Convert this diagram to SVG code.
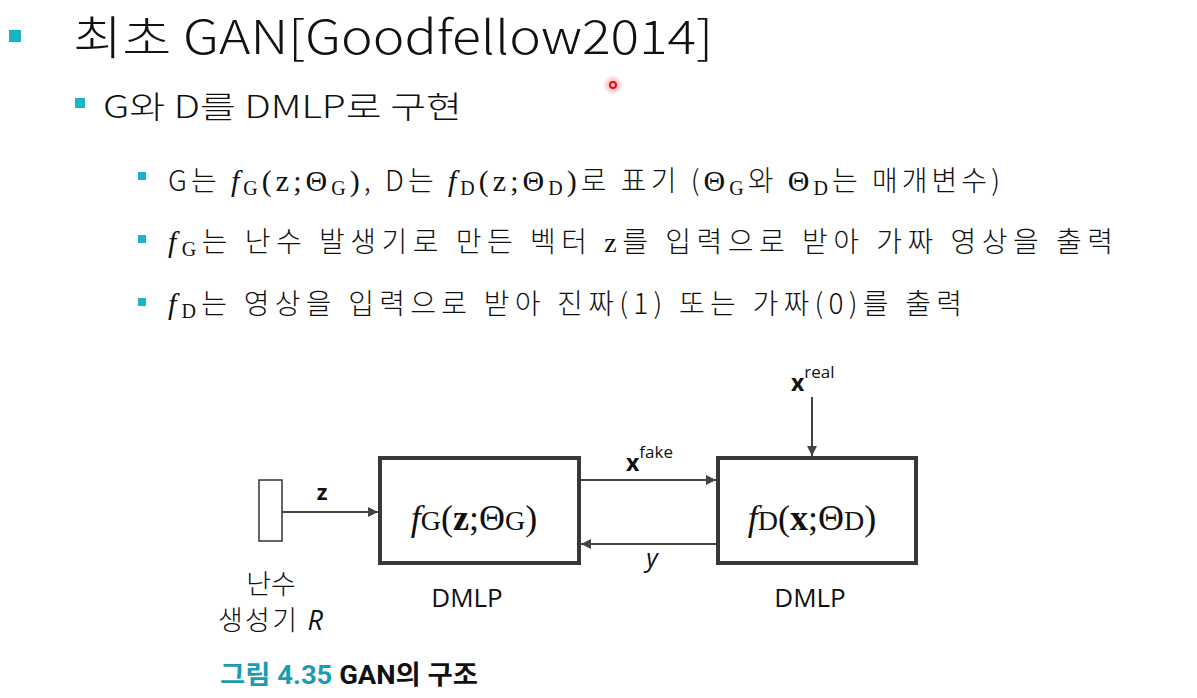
<svg xmlns="http://www.w3.org/2000/svg" width="1197" height="698" viewBox="0 0 1197 698">
<defs>
<style>
.sans{font-family:"Liberation Sans","Noto Sans CJK KR",sans-serif;fill:#111}
.kr{font-family:"Noto Sans CJK KR","Liberation Sans",sans-serif;fill:#111;font-weight:300}
.math{font-family:"Liberation Serif","DejaVu Serif",serif;fill:#111}
.it{font-style:italic}
.bul{fill:#1bb3c6}
.box{fill:#fff;stroke:#383838;stroke-width:4}
.line{stroke:#444;stroke-width:2;fill:none}
.lbl{font-family:"Open Sans","Liberation Sans",sans-serif;fill:#111}
</style>
<marker id="ah" viewBox="0 0 10 10" refX="10" refY="5" markerWidth="10" markerHeight="10" markerUnits="userSpaceOnUse" orient="auto">
<path d="M0,0 L10,5 L0,10 Z" fill="#444"/>
</marker>
<radialGradient id="glow">
<stop offset="0" stop-color="#ff2020" stop-opacity="0.5"/>
<stop offset="1" stop-color="#ff2020" stop-opacity="0"/>
</radialGradient>
</defs>
<rect width="1197" height="698" fill="#fff"/>

<g id="title">
<rect class="bul" x="9" y="30" width="12" height="12"/>
<text class="kr" x="73" y="54" font-size="46" textLength="640" lengthAdjust="spacingAndGlyphs">최초 GAN[Goodfellow2014]</text>
</g>
<g id="sub1">
<rect class="bul" x="75" y="98" width="10" height="10"/>
<text class="kr" x="103" y="118" font-size="31" textLength="359" lengthAdjust="spacingAndGlyphs">G와 D를 DMLP로 구현</text>
</g>
<g id="item1">
<rect class="bul" x="138" y="172" width="8" height="8"/>
<text x="168" y="191" font-size="28" textLength="832" lengthAdjust="spacing"><tspan class="kr">G는 </tspan><tspan class="math it" font-size="30">f</tspan><tspan class="math" font-size="20" dy="4">G</tspan><tspan class="math" font-size="30" dy="-4">(z;Θ</tspan><tspan class="math" font-size="20" dy="4">G</tspan><tspan class="math" font-size="30" dy="-4">)</tspan><tspan class="kr">, D는 </tspan><tspan class="math it" font-size="30">f</tspan><tspan class="math" font-size="20" dy="4">D</tspan><tspan class="math" font-size="30" dy="-4">(z;Θ</tspan><tspan class="math" font-size="20" dy="4">D</tspan><tspan class="math" font-size="30" dy="-4">)</tspan><tspan class="kr">로 표기 (</tspan><tspan class="math" font-size="30">Θ</tspan><tspan class="math" font-size="20" dy="4">G</tspan><tspan class="kr" dy="-4">와 </tspan><tspan class="math" font-size="30">Θ</tspan><tspan class="math" font-size="20" dy="4">D</tspan><tspan class="kr" dy="-4">는 매개변수)</tspan></text>
</g>
<g id="item2">
<rect class="bul" x="138" y="235" width="8" height="8"/>
<text x="168" y="252" font-size="28" textLength="945" lengthAdjust="spacing"><tspan class="math it" font-size="30">f</tspan><tspan class="math" font-size="20" dy="4">G</tspan><tspan class="kr" dy="-4">는 난수 발생기로 만든 벡터 </tspan><tspan class="math">z</tspan><tspan class="kr">를 입력으로 받아 가짜 영상을 출력</tspan></text>
</g>
<g id="item3">
<rect class="bul" x="138" y="298" width="8" height="8"/>
<text x="168" y="314" font-size="28" textLength="794" lengthAdjust="spacing"><tspan class="math it" font-size="30">f</tspan><tspan class="math" font-size="20" dy="4">D</tspan><tspan class="kr" dy="-4">는 영상을 입력으로 받아 진짜(1) 또는 가짜(0)를 출력</tspan></text>
</g>

<g id="pointer">
<circle cx="613" cy="85" r="10" fill="url(#glow)"/>
<circle cx="613" cy="85" r="3" fill="#ffd0d0" stroke="#e01010" stroke-width="2"/>
</g>

<g id="rng">
<rect x="259" y="480" width="23" height="61" fill="#fff" stroke="#333" stroke-width="1.5"/>
<text class="kr" x="271" y="594" font-size="27" text-anchor="middle">난수</text>
<text x="218" y="630" font-size="27" textLength="105" lengthAdjust="spacing"><tspan class="kr">생성기 </tspan><tspan class="lbl it">R</tspan></text>
</g>
<g id="G">
<rect class="box" x="380" y="458" width="199" height="105"/>
<text class="math" x="474" y="530" font-size="36" text-anchor="middle"><tspan class="it">f</tspan><tspan font-size="28">G</tspan>(<tspan font-weight="bold">z</tspan>;Θ<tspan font-size="28">G</tspan>)</text>
<text class="lbl" x="467" y="607" font-size="26" text-anchor="middle">DMLP</text>
</g>
<g id="D">
<rect class="box" x="718" y="458" width="198" height="105"/>
<text class="math" x="812" y="530" font-size="36" text-anchor="middle"><tspan class="it">f</tspan><tspan font-size="28">D</tspan>(<tspan font-weight="bold">x</tspan>;Θ<tspan font-size="28">D</tspan>)</text>
<text class="lbl" x="810" y="607" font-size="26" text-anchor="middle">DMLP</text>
</g>

<g id="connectors">
<line class="line" x1="282" y1="512" x2="378" y2="512" marker-end="url(#ah)"/>
<line class="line" x1="581" y1="480" x2="716" y2="480" marker-end="url(#ah)"/>
<line class="line" x1="716" y1="544" x2="581" y2="544" marker-end="url(#ah)"/>
<line class="line" x1="812" y1="397" x2="812" y2="456" marker-end="url(#ah)"/>
<text class="lbl" x="322" y="500" font-size="22" font-weight="bold" text-anchor="middle">z</text>
<text class="lbl" x="626" y="471" font-size="23" font-weight="bold">x<tspan font-size="17" font-weight="normal" dy="-13">fake</tspan></text>
<text class="lbl it" x="652" y="567" font-size="25" text-anchor="middle">y</text>
<text class="lbl" x="791" y="391" font-size="23" font-weight="bold">x<tspan font-size="17" font-weight="normal" dy="-13">real</tspan></text>
</g>

<g id="caption">
<text x="220" y="684" font-size="26" font-weight="bold" font-family="Roboto,'Noto Sans CJK KR',sans-serif" textLength="258" lengthAdjust="spacingAndGlyphs"><tspan fill="#1a9db0">그림 4.35 </tspan><tspan fill="#111">GAN의 구조</tspan></text>
</g>
</svg>
